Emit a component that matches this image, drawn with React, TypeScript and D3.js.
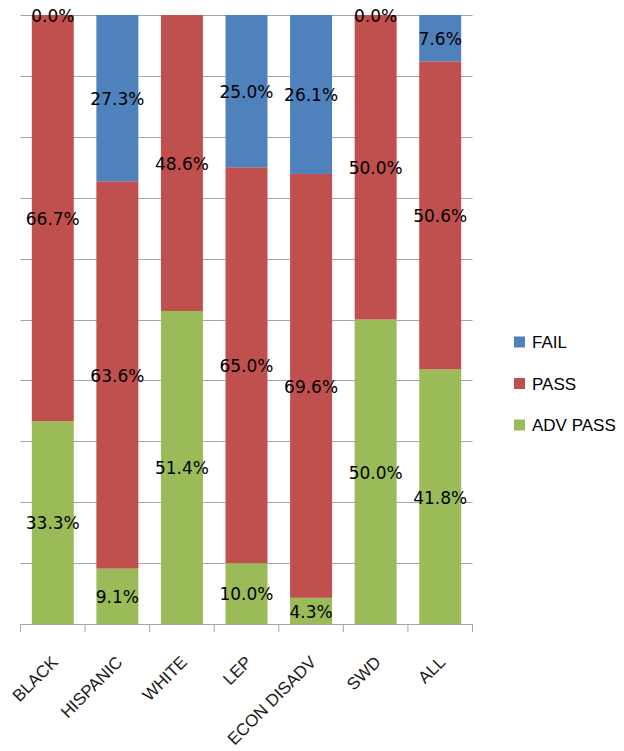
import React from "react";
import * as d3 from "d3";

const categories = ["BLACK", "HISPANIC", "WHITE", "LEP", "ECON DISADV", "SWD", "ALL"];
const failValues = [0.0, 27.3, 0.0, 25.0, 26.1, 0.0, 7.6];
const passValues = [66.7, 63.6, 48.6, 65.0, 69.6, 50.0, 50.6];
const advPassValues = [33.3, 9.1, 51.4, 10.0, 4.3, 50.0, 41.8];
const failLabelShown = [true, true, false, true, true, true, true];
const seriesNames = ["FAIL", "PASS", "ADV PASS"];
const colors = ["#4F81BD", "#C0504D", "#9BBB59"];
const yTicks = [0, 10, 20, 30, 40, 50, 60, 70, 80, 90, 100];

export default function App() {
  const W = 624, H = 751;
  const left = 20.5, right = 472.5, top = 15, bottom = 624;
  const x = d3.scaleBand<string>().domain(categories).range([left, right]).paddingInner(0.35).paddingOuter(0.175);
  const y = d3.scaleLinear().domain([0, 100]).range([bottom, top]);

  const rows = categories.map((c, i) => ({ cat: c, adv: advPassValues[i], pass: passValues[i], fail: failValues[i] }));
  const stack = d3.stack<any>().keys(["adv", "pass", "fail"]);
  const layers = stack(rows);
  const keyToSeries: Record<string, number> = { fail: 0, pass: 1, adv: 2 };
  const step = (right - left) / categories.length;

  return (
    <svg width={W} height={H} style={{ position: "absolute", left: 0, top: 0 }}>
      <rect x={0} y={0} width={W} height={H} fill="#fff" />
      {yTicks.map((t) => (
        <line key={t} x1={left} x2={right} y1={Math.round(y(t)) + 0.5} y2={Math.round(y(t)) + 0.5} stroke="#A6A6A6" strokeWidth={1} />
      ))}
      {layers.map((layer) => {
        const si = keyToSeries[layer.key];
        return (
          <g key={layer.key}>
            {layer.map((d: any, i: number) => (
              <rect key={i} x={x(categories[i])} width={x.bandwidth()} y={y(d[1])} height={y(d[0]) - y(d[1])} fill={colors[si]} />
            ))}
          </g>
        );
      })}
      {layers.map((layer) => (
        <g key={"l" + layer.key}>
          {layer.map((d: any, i: number) => {
            if (layer.key === "fail" && !failLabelShown[i]) return null;
            const v = d[1] - d[0];
            const cy = y((d[0] + d[1]) / 2);
            return (
              <text key={i} x={x(categories[i])! + x.bandwidth() / 2} y={cy} dy="0.4em" textAnchor="middle"
                fontFamily="DejaVu Sans" fontSize={17} fill="#000">
                {v.toFixed(1) + "%"}
              </text>
            );
          })}
        </g>
      ))}
      <line x1={left} x2={right} y1={bottom + 0.5} y2={bottom + 0.5} stroke="#A6A6A6" strokeWidth={1} />
      {d3.range(categories.length + 1).map((i) => (
        <line key={i} x1={left + i * step} x2={left + i * step} y1={bottom} y2={bottom + 8} stroke="#A6A6A6" strokeWidth={1} />
      ))}
      {categories.map((c) => {
        const cx = x(c)! + x.bandwidth() / 2;
        return (
          <text key={c} transform={`translate(${cx + 2},${bottom + 35}) rotate(-45)`} textAnchor="end" dy="0.35em"
            fontFamily="Liberation Sans" fontSize={17} fill="#1a1a1a">
            {c}
          </text>
        );
      })}
      {seriesNames.map((s, i) => (
        <g key={s} transform={`translate(514,${342 + i * 41.5})`}>
          <rect x={0} y={-5.5} width={11} height={11} fill={colors[i]} />
          <text x={18} y={0} dy="0.36em" fontFamily="Liberation Sans" fontSize={17} fill="#000">{s}</text>
        </g>
      ))}
    </svg>
  );
}
